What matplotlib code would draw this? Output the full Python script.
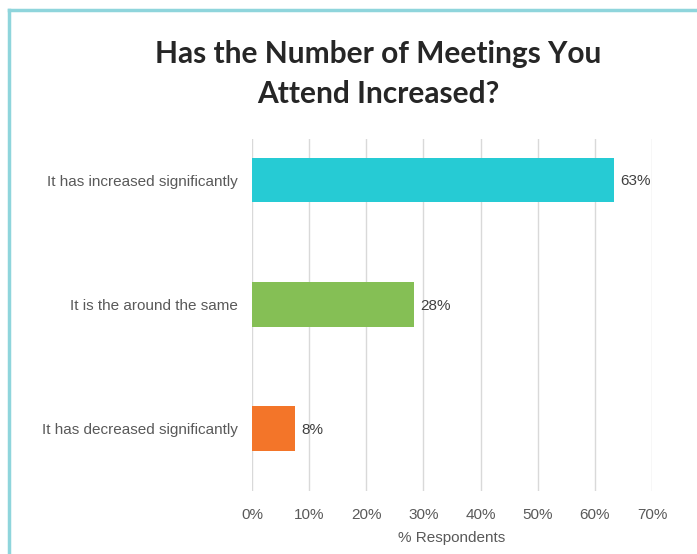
import matplotlib.pyplot as plt
from matplotlib.lines import Line2D

categories = ['It has increased significantly',
              'It is the around the same',
              'It has decreased significantly']
values = [63.4, 28.4, 7.6]
colors = ['#26CBD4', '#85BF55', '#F37529']
ticks = [0, 10, 20, 30, 40, 50, 60, 70]

fig = plt.figure(figsize=(6.97, 5.54), dpi=100)
ax = fig.add_axes([0.3616, 0.1137, 0.5738, 0.6354])

pos = list(range(len(categories)))
ax.barh(pos, values, height=0.36, color=colors, zorder=3)
for p, v in zip(pos, values):
    ax.text(v + 1.0, p + 0.01, '%.0f%%' % v, va='center', ha='left',
            fontsize=11, color='#404040', family='Liberation Sans')

ax.set_xlim(0, 70)
ax.set_ylim(2.5, -0.33)
ax.set_xticks(ticks)
ax.set_xticklabels(['%d%%' % t for t in ticks])
ax.set_yticks(pos)
ax.set_yticklabels(categories)
ax.grid(axis='x', color='#D9D9D9', linewidth=1, zorder=0)
for s in ax.spines.values():
    s.set_visible(False)
ax.tick_params(length=0, labelsize=11, labelcolor='#595959')
ax.tick_params(axis='x', pad=12)
ax.tick_params(axis='y', pad=10)
for lab in ax.get_xticklabels() + ax.get_yticklabels():
    lab.set_family('Liberation Sans')
ax.set_xlabel('% Respondents', fontsize=11, color='#595959',
              family='Liberation Sans', labelpad=7)

fig.text(0.543, 0.903, 'Has the Number of Meetings You', ha='center', va='center',
         fontsize=21.5, fontweight='bold', family='Lato', color='#262626')
fig.text(0.543, 0.831, 'Attend Increased?', ha='center', va='center',
         fontsize=21.5, fontweight='bold', family='Lato', color='#262626')

# frame lines along top and left edge
fig.add_artist(Line2D([9 / 697, 1], [1 - 10 / 554, 1 - 10 / 554],
                      transform=fig.transFigure, color='#8FD5DC', linewidth=2.5))
fig.add_artist(Line2D([9 / 697, 9 / 697], [0, 1 - 10 / 554],
                      transform=fig.transFigure, color='#8FD5DC', linewidth=2.5))

fig.savefig('out.png', dpi=100)
